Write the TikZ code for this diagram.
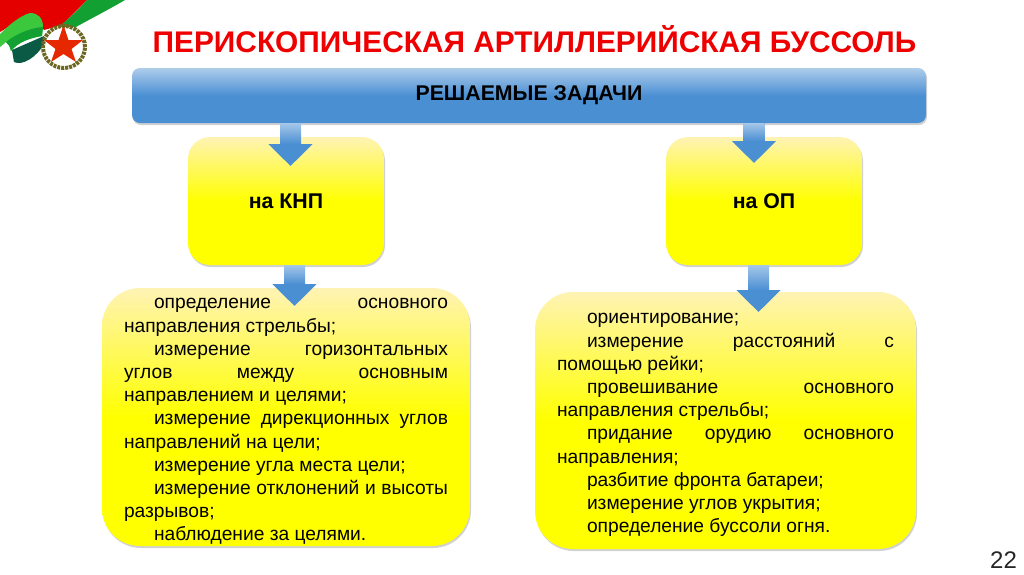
\documentclass[tikz,border=0pt]{standalone}
\usepackage{fontspec}
\setmainfont{Liberation Sans}
\usetikzlibrary{arrows.meta,shadows}
\definecolor{bluemid}{HTML}{4B8FD3}
\definecolor{titlered}{HTML}{EE0000}
\definecolor{flaggreen}{HTML}{12A032}
\definecolor{flaglight}{HTML}{3CC83C}
\definecolor{flagdark}{HTML}{0B5A45}
\definecolor{palegold}{HTML}{FFF3B4}
\pgfdeclareverticalshading{yellowshade}{100bp}{color(0bp)=(yellow); color(50bp)=(yellow); color(75bp)=(palegold); color(100bp)=(palegold)}
\pgfdeclareverticalshading{blueshade}{100bp}{color(0bp)=(bluemid); color(50bp)=(bluemid); color(75bp)=(bluemid!45!white); color(100bp)=(bluemid!45!white)}
\tikzset{
  softshadow/.style={drop shadow={shadow xshift=1pt,shadow yshift=-2pt,opacity=.3,fill=black!60}},
  taskbox/.style={draw=none,shading=blueshade,rounded corners=8pt,softshadow,inner sep=0pt,font=\fontsize{21.3}{24}\bfseries\selectfont},
  placebox/.style={draw=none,shading=yellowshade,rounded corners=22pt,softshadow,inner sep=0pt,minimum width=196pt,minimum height=128pt,font=\fontsize{21.3}{24}\bfseries\selectfont},
  listbox/.style={draw=none,shading=yellowshade,rounded corners=38pt,softshadow,inner sep=0pt,align=justify},
  flowarrow/.style={draw=bluemid,line width=21pt,-{Triangle[width=43pt,length=22pt,fill=bluemid]}},
  shaftshade/.style={top color=bluemid!50!white,bottom color=bluemid},
}
\newcommand{\listtext}[1]{\fontsize{19.2}{23.2}\selectfont\parindent=30pt\relax\indent\rule{0pt}{19.5pt}#1\par}
\begin{document}
\begin{tikzpicture}[x=1pt,y=-1pt]
  \useasboundingbox (0,0) rectangle (1024,574);
  % emblem
  \fill[red!90!black] (0,0) -- (87,0) -- (62,25) -- (44,30) -- (30,14) -- (0,32) -- cycle;
  \fill[flaggreen] (87,0) -- (125,0) .. controls (108,10) and (92,18) .. (76,27) -- (58,27) .. controls (68,20) and (78,10) .. (87,0) -- cycle;
  \fill[flagdark] (12,50) -- (44,36) -- (44,44) .. controls (36,58) and (22,66) .. (14,62) -- cycle;
  \fill[flaglight] (0,34) .. controls (10,24) and (20,16) .. (30,13) .. controls (38,13) and (43,18) .. (43,27) -- (42,36) .. controls (30,38) and (18,42) .. (11,51) .. controls (10,46) and (8,44) .. (6,42) -- (0,47) -- cycle;
  \fill[flaggreen] (6,42) .. controls (16,34) and (30,28) .. (43,27) -- (42,36) .. controls (30,38) and (18,42) .. (11,51) .. controls (10,46) and (8,44) .. (6,42) -- cycle;
  \node[draw=olive!70!black,line width=4pt,dash pattern=on 3pt off 1pt,circle,minimum size=42pt,inner sep=0pt] (wreath) at (64,47) {};
  \fill[red!65!orange!90!black] (63.5,25) -- (68.5,40) -- (83,40) -- (71.5,49) -- (76,62) -- (63.5,54) -- (51,62) -- (55.5,49) -- (44,40) -- (58.5,40) -- cycle;
  % title
  \node[text=titlered,font=\fontsize{29.85}{32}\bfseries\selectfont,inner sep=0pt] (title) at (534.5,39) {ПЕРИСКОПИЧЕСКАЯ АРТИЛЛЕРИЙСКАЯ БУССОЛЬ};
  % boxes
  \node[taskbox,minimum width=794pt,minimum height=55pt] (tasks) at (529,95.5) {\raisebox{-1pt}{РЕШАЕМЫЕ ЗАДАЧИ}};
  \node[placebox] (knp) at (286,201) {\raisebox{-1pt}{на КНП}};
  \node[placebox] (op) at (764,201) {\raisebox{-1pt}{на ОП}};
  \node[listbox,minimum width=368pt,minimum height=258pt,text width=324pt] (knplist) at (286,417) {\listtext{%
    определение основного\linebreak направления стрельбы;\par
    измерение горизонтальных\linebreak углов между основным\linebreak направлением и целями;\par
    измерение дирекционных углов\linebreak направлений на цели;\par
    измерение угла места цели;\par
    измерение отклонений и высоты\linebreak разрывов;\par
    наблюдение за целями.}};
  \node[listbox,minimum width=381pt,minimum height=257pt,text width=337pt] (oplist) at (725.5,420.5) {\listtext{%
    ориентирование;\par
    измерение расстояний с\linebreak помощью рейки;\par
    провешивание основного\linebreak направления стрельбы;\par
    придание орудию основного\linebreak направления;\par
    разбитие фронта батареи;\par
    измерение углов укрытия;\par
    определение буссоли огня.}};
  % arrows
  \coordinate (a1) at (290.5,123);
  \coordinate (a2) at (290.5,166);
  \coordinate (b1) at (754,123);
  \coordinate (b2) at (754,163);
  \coordinate (c1) at (294.5,265);
  \coordinate (c2) at (294.5,306);
  \coordinate (d1) at (758.5,265);
  \coordinate (d2) at (758.5,312);
  \foreach \from/\to in {a1/a2,b1/b2,c1/c2,d1/d2} {
    \draw[flowarrow] (\from) -- (\to);
    \shade[shaftshade] ([xshift=-10.5pt]\from) rectangle ([xshift=10.5pt,yshift=22pt]\to);
  }
  \node[inner sep=0pt,font=\fontsize{24}{26}\selectfont,text=black!85] (page) at (1003.5,560) {22};
\end{tikzpicture}
\end{document}
